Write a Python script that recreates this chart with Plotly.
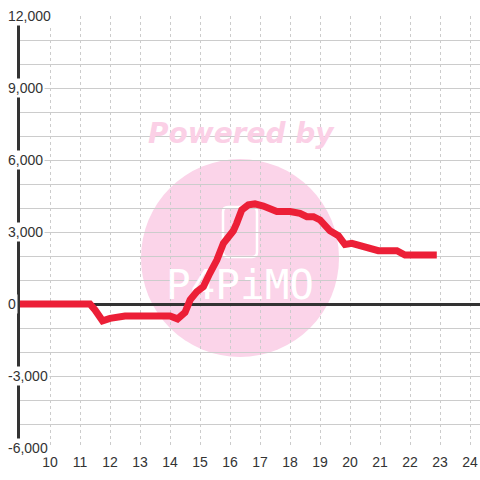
import plotly.graph_objects as go

# time of day (hours) and cumulative value
hours = [9.0, 11.33, 11.5, 11.75, 12.0, 12.25, 12.5, 14.0, 14.25, 14.5, 14.67,
         14.89, 15.11, 15.33, 15.56, 15.78, 16.0, 16.11, 16.22, 16.39, 16.61,
         16.83, 17.11, 17.33, 17.56, 18.0, 18.33, 18.56, 18.78, 19.0, 19.33,
         19.61, 19.83, 20.06, 20.39, 20.72, 20.94, 21.56, 21.83, 22.89]
values = [0, 0, -250, -700, -600, -520, -500, -500, -620, -350, 170,
          510, 720, 1290, 1830, 2530, 2900, 3050, 3360, 3920, 4130,
          4170, 4080, 3990, 3850, 3850, 3780, 3640, 3640, 3500, 3050,
          2850, 2480, 2530, 2390, 2320, 2220, 2220, 2040, 2040]

x_ticks = list(range(10, 25))
y_ticks = [-6000, -3000, 0, 3000, 6000, 9000, 12000]
y_tick_labels = [f"{v:,}" for v in y_ticks]

X_RANGE = [9, 24.33]
Y_RANGE = [-6000, 12000]

fig = go.Figure()

# watermark logo text (drawn beneath the data line)
fig.add_trace(go.Scatter(
    x=[16.33], y=[620], mode="text", text=["P4PiMO"],
    textfont=dict(family="DejaVu Sans Mono", size=41, color="white"),
    hoverinfo="skip", showlegend=False,
))

fig.add_trace(go.Scatter(
    x=hours, y=values, mode="lines",
    line=dict(color="#ec1f37", width=7),
    hoverinfo="skip", showlegend=False,
))

# rounded logo frame (paper coordinates)
fx0, fx1 = (223 - 20) / 460, (257 - 20) / 460
fy0, fy1 = (448 - 257) / 432, (448 - 207) / 432
rx, ry = 5 / 460, 5 / 432
frame_path = (
    f"M {fx0 + rx} {fy1} L {fx1 - rx} {fy1} Q {fx1} {fy1} {fx1} {fy1 - ry} "
    f"L {fx1} {fy0 + ry} Q {fx1} {fy0} {fx1 - rx} {fy0} "
    f"L {fx0 + rx} {fy0} Q {fx0} {fy0} {fx0} {fy0 + ry} "
    f"L {fx0} {fy1 - ry} Q {fx0} {fy1} {fx0 + rx} {fy1} Z"
)

shapes = [
    dict(type="circle", xref="paper", yref="paper",
         x0=0.263, x1=0.6935, y0=0.2106, y1=0.669,
         fillcolor="#fbd4e9", line=dict(width=0), layer="below"),
    dict(type="path", xref="paper", yref="paper", path=frame_path,
         line=dict(color="white", width=2.5), layer="below"),
]

annotations = [
    dict(text="<b><i>Powered by</i></b>", xref="paper", yref="paper",
         x=(241 - 20) / 460, y=(448 - 133) / 432, showarrow=False,
         font=dict(family="DejaVu Sans", size=28, color="#fbd0e6"),
         xanchor="center", yanchor="middle"),
]
for v, lab in zip(y_ticks, y_tick_labels):
    annotations.append(dict(
        text=lab, xref="paper", yref="y", x=(6 - 20) / 460, y=v,
        showarrow=False, xanchor="left", yanchor="middle",
        font=dict(family="Liberation Sans, Arial", size=14, color="#333333"),
        bgcolor="white", borderpad=1,
    ))

fig.update_layout(
    width=480, height=480,
    margin=dict(l=20, r=0, t=16, b=32),
    paper_bgcolor="white", plot_bgcolor="white",
    shapes=shapes, annotations=annotations,
    font=dict(family="Liberation Sans, Arial", size=14, color="#333333"),
    xaxis=dict(range=X_RANGE, tickvals=x_ticks, showgrid=True,
               gridcolor="#cccccc", griddash="dot", gridwidth=1,
               zeroline=False, showline=False, ticks="",
               ticklabelstandoff=4,
               tickfont=dict(size=14, color="#333333"), fixedrange=True),
    yaxis=dict(range=Y_RANGE, dtick=1000, tick0=0, showticklabels=False,
               showgrid=True, gridcolor="#cccccc", gridwidth=1,
               zeroline=True, zerolinecolor="#333333", zerolinewidth=3,
               showline=True, linecolor="#333333", linewidth=3, ticks="",
               fixedrange=True),
)

fig.write_html("out.html", config={"displayModeBar": False},
               post_script="document.body.style.margin='0';document.body.style.overflow='hidden';")
